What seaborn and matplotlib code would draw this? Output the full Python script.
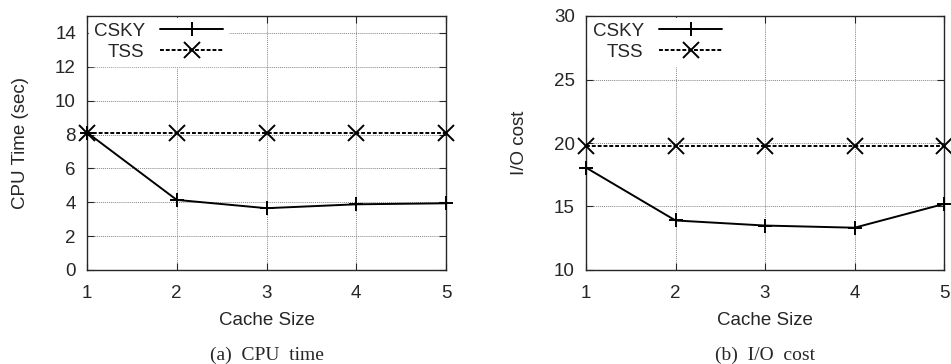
# cache size experiment: CSKY vs TSS
import matplotlib
matplotlib.use("Agg")
import matplotlib.pyplot as plt
import seaborn as sns
import pandas as pd

sns.set_style("ticks")
plt.rcParams['font.family'] = ['Liberation Sans', 'DejaVu Sans']
plt.rcParams['font.size'] = 13.5

cache_size = [1, 2, 3, 4, 5]
cpu_csky = [8.12, 4.14, 3.65, 3.88, 3.94]
cpu_tss = [8.08, 8.08, 8.08, 8.08, 8.08]
io_csky = [18.06, 13.9, 13.5, 13.33, 15.2]
io_tss = [19.76, 19.76, 19.76, 19.76, 19.76]

fig = plt.figure(figsize=(9.51, 3.64), dpi=100)
ax1 = fig.add_axes([87 / 951, 1 - 270 / 364, (446 - 87) / 951, (270 - 16) / 364])
ax2 = fig.add_axes([586 / 951, 1 - 270 / 364, (944 - 586) / 951, (270 - 16) / 364])


def draw(ax, csky, tss, ylim, yticks, ylabel, caption):
    df = pd.DataFrame({'x': cache_size, 'CSKY': csky, 'TSS': tss})
    sns.lineplot(data=df, x='x', y='CSKY', ax=ax, color='black', linewidth=1.4,
                 marker='+', markersize=10, markeredgewidth=1.4, markeredgecolor='black',
                 label='CSKY', clip_on=False, zorder=5)
    sns.lineplot(data=df, x='x', y='TSS', ax=ax, color='black', linewidth=1.4,
                 linestyle=(0, (2, 1)), marker='x', markersize=11, markeredgewidth=1.4,
                 markeredgecolor='black', label='TSS', clip_on=False, zorder=5)
    ax.set_xlim(1, 5)
    ax.set_ylim(*ylim)
    ax.set_xticks(cache_size)
    ax.set_yticks(yticks)
    ax.grid(True, color='#888888', linestyle=(0, (1, 1)), linewidth=0.7)
    ax.tick_params(direction='in', top=True, right=True, length=5, labelsize=13.5)
    ax.tick_params(axis='x', pad=11)
    ax.tick_params(axis='y', pad=8)
    for s in ax.spines.values():
        s.set_visible(True)
        s.set_linewidth(1.0)
    ax.set_xlabel('Cache Size', fontsize=13.5, labelpad=7)
    ax.set_ylabel(ylabel, fontsize=13.5, labelpad=19)
    leg = ax.legend(loc='upper left', markerfirst=False, frameon=True, fancybox=False,
                    framealpha=1, edgecolor='white', handlelength=3.4, borderaxespad=0.1,
                    borderpad=0.25, labelspacing=0.22, handletextpad=0.8, fontsize=13.5)
    for t in leg.get_texts():
        t.set_ha('right')
    pos = ax.get_position()
    fig.text(pos.x0 + pos.width / 2, 4 / 364, caption, ha='center', va='baseline',
             family='Liberation Serif', fontsize=14)


draw(ax1, cpu_csky, cpu_tss, (0, 15), [0, 2, 4, 6, 8, 10, 12, 14], 'CPU Time (sec)', '(a)  CPU  time')
draw(ax2, io_csky, io_tss, (10, 30), [10, 15, 20, 25, 30], 'I/O cost', '(b)  I/O  cost')

plt.savefig('out.png', dpi=100)
